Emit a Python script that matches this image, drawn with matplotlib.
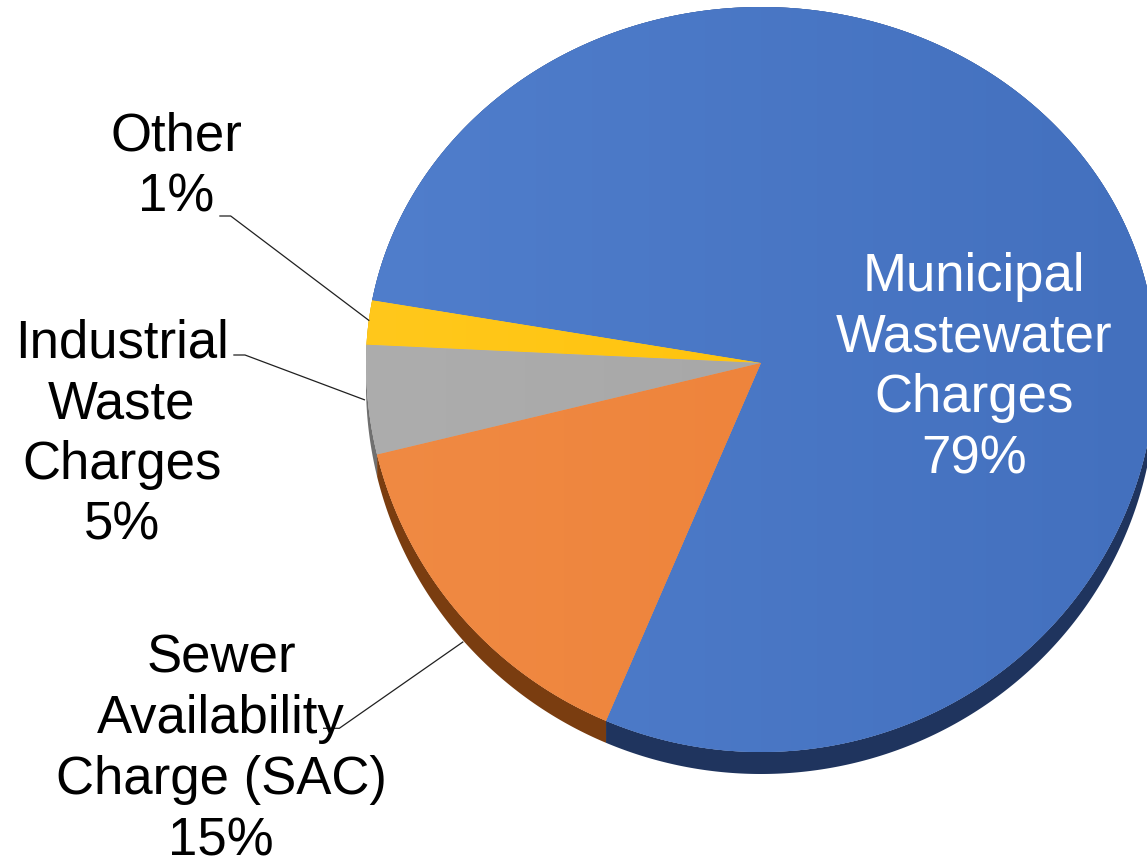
import numpy as np
import matplotlib
matplotlib.use("Agg")
import matplotlib.pyplot as plt
from matplotlib.colors import to_rgb

# ---- data (apparent slice shares as drawn, counter-clockwise from start) ----
categories = ["Municipal\nWastewater\nCharges", "Other",
              "Industrial\nWaste\nCharges", "Sewer\nAvailability\nCharge (SAC)"]
shares = [78.6, 2.0, 4.6, 14.8]
pct_labels = ["79%", "1%", "5%", "15%"]

# top-face colours: (left shade, right shade) for a slight horizontal gradient
top_left = ["#507ECC", "#FFC81C", "#ADADAD", "#F08A43"]
top_right = ["#4370BE", "#FFC000", "#A3A3A3", "#EC7E35"]
side_colors = ["#1F345E", "#B08A10", "#707070", "#7A3D10"]
label_colors = ["white", "black", "black", "black"]

W, H = 1147, 861
fig = plt.figure(figsize=(W / 100, H / 100), dpi=100)
ax = fig.add_axes([0, 0, 1, 1])
ax.set_xlim(0, W)
ax.set_ylim(H, 0)
ax.axis("off")

# perspective-ish geometry of the tilted pie
cx, cy = 761, 363
rx, ry_top, ry_bot = 395, 356, 389
depth = 22
start = 246.9


def proj(theta_deg):
    t = np.radians(theta_deg)
    u, v = np.cos(t), np.sin(t)
    x = cx + rx * u
    y = cy - np.where(v > 0, ry_top * v, ry_bot * v)
    return x, y


bounds = start + 360 * np.concatenate([[0], np.cumsum(shares)]) / sum(shares)

# side walls
for i in range(len(shares)):
    th = np.linspace(bounds[i], bounds[i + 1], 600)
    x, y = proj(th)
    xs = np.concatenate([x, x[::-1]])
    ys = np.concatenate([y, (y + depth)[::-1]])
    ax.fill(xs, ys, color=side_colors[i], lw=0, zorder=1)

# top faces with a gentle left-to-right shading
x0, x1 = cx - rx, cx + rx
ramp = np.linspace(0, 1, 256)
for i in range(len(shares)):
    th = np.linspace(bounds[i], bounds[i + 1], 600)
    x, y = proj(th)
    xs = np.concatenate([[cx], x])
    ys = np.concatenate([[cy], y])
    patch = ax.fill(xs, ys, color=top_right[i], lw=0, zorder=2)[0]
    cl, cr = np.array(to_rgb(top_left[i])), np.array(to_rgb(top_right[i]))
    img = (cl[None, :] * (1 - ramp[:, None]) + cr[None, :] * ramp[:, None])[None, :, :]
    im = ax.imshow(img, extent=[x0, x1, cy + ry_bot + 2, cy - ry_top - 2],
                   aspect="auto", interpolation="bilinear", zorder=2.5)
    im.set_clip_path(patch)
ax.set_xlim(0, W)
ax.set_ylim(H, 0)

# labels (anchored at the baseline of the last line)
font = "Liberation Sans"
fs = 38
ls = 1.28
label_pos = [(974, 473.3), (176, 211.7), (122, 540), (221, 855)]
for i, (x, y) in enumerate(label_pos):
    ax.text(x, y, categories[i] + "\n" + pct_labels[i], ha="center", va="baseline",
            multialignment="center", fontsize=fs, family=font,
            color=label_colors[i], linespacing=ls, zorder=5)

# leader lines
leaders = [
    [(219.3, 216), (230.7, 216), (369.3, 320.7)],
    [(233.3, 355), (245, 355), (365, 400)],
    [(463.3, 641.7), (339.3, 728.3), (323, 728.3)],
]
for pts in leaders:
    xs, ys = zip(*pts)
    ax.plot(xs, ys, color="#202020", lw=0.9, zorder=4, solid_capstyle="butt")

fig.savefig("out.png", dpi=100)
